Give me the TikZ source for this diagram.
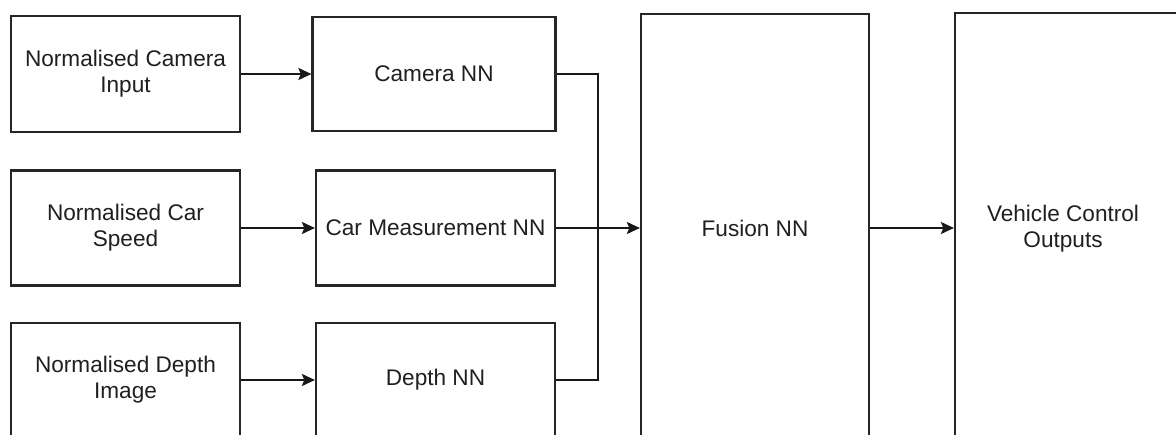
\documentclass[tikz,border=0pt]{standalone}
\usepackage{fontspec}
\setmainfont{Liberation Sans}
\usetikzlibrary{arrows.meta}
\begin{document}
\begin{tikzpicture}[x=0.5pt,y=-0.5pt,
  box/.style={draw=black!85, line width=1.1pt, inner sep=0pt, align=center,
    font=\fontsize{11.3pt}{13pt}\selectfont, text=black!88},
  lbl/.style={inner sep=0pt, align=center, font=\fontsize{11.3pt}{13pt}\selectfont, text=black!88},
  conn/.style={draw=black!90, line width=1.1pt},
  arr/.style={conn, -{Stealth[length=6.5pt,width=6pt,inset=1.2pt]}}]
\useasboundingbox (0,0) rectangle (1176,434);
\clip (0,0) rectangle (1176,434);
% inputs
\node[box, minimum width=114.5pt, minimum height=58pt] (ci) at (125.5,74) {Normalised Camera\\Input};
\node[box, minimum width=114.5pt, minimum height=57.5pt] (si) at (125.5,228) {Normalised Car\\Speed};
\node[box, minimum width=114.5pt, minimum height=57pt] (di) at (125.5,380) {Normalised Depth\\Image};
% NNs
\node[box, minimum width=121.5pt, minimum height=57pt] (cn) at (434,74) {Camera NN};
\node[box, minimum width=119.5pt, minimum height=57.5pt] (mn) at (435.5,228) {Car Measurement NN};
\node[box, minimum width=119.5pt, minimum height=57pt] (dn) at (435.5,380) {Depth NN};
% fusion and outputs
\node[box, minimum width=114pt, minimum height=214pt] (fu) at (755,228) {Fusion NN};
\node[box, minimum width=120pt, minimum height=215pt] (vo) at (1075,228) {};
\node[lbl] (vot) at (1063,229) {Vehicle Control\\Outputs};
\coordinate (j) at (598,228);
% connectors
\draw[arr] (ci.east) -- (cn.west);
\draw[arr] (si.east) -- (mn.west);
\draw[arr] (di.east) -- (dn.west);
\draw[conn] (cn.east) -- (cn.east -| j) -- (dn.east -| j) -- (dn.east);
\draw[arr] (mn.east) -- (fu.west);
\draw[arr] (fu.east) -- (vo.west);
\end{tikzpicture}
\end{document}
